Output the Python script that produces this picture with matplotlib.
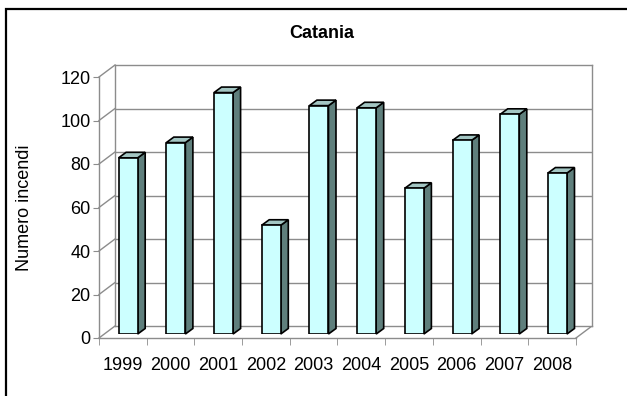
import numpy as np
import matplotlib.pyplot as plt
from matplotlib.patches import Polygon, Rectangle
from matplotlib.lines import Line2D
from matplotlib.transforms import IdentityTransform

plt.rcParams['font.family'] = ['Liberation Sans', 'DejaVu Sans']

# Dati
anni = ['1999', '2000', '2001', '2002', '2003', '2004', '2005', '2006', '2007', '2008']
incendi = [81, 88, 111, 50, 105, 104, 67, 89, 101, 74]
y_ticks = [0, 20, 40, 60, 80, 100, 120]

W, H = 627, 396
fig = plt.figure(figsize=(W / 100, H / 100), dpi=100)

# piano delle barre (pixel)
L, R, B, T = 104.3, 581.3, 62, 323
front = (-5.3, -4.0)   # spostamento piano frontale
back = (10.7, 8.0)     # spostamento parete di fondo
depth = (7.5, 5.5)     # profondita' barre
gray = '#8c8c8c'

def pos(dx, dy):
    return [(L + dx) / W, (B + dy) / H, (R - L) / W, (T - B) / H]

x = np.arange(len(anni))
xlim = (-0.5, len(anni) - 0.5)
ylim = (0, 120)

# parete di fondo
ax_back = fig.add_axes(pos(*back))
ax_back.set_xlim(xlim)
ax_back.set_ylim(ylim)
ax_back.set_xticks([])
ax_back.set_yticks(y_ticks[1:-1])
ax_back.tick_params(length=0, labelleft=False)
ax_back.grid(axis='y', color=gray, linewidth=1.0)
for s in ax_back.spines.values():
    s.set_color(gray)
    s.set_linewidth(1.0)

# assi frontali
ax_front = fig.add_axes(pos(*front))
ax_front.set_xlim(xlim)
ax_front.set_ylim(ylim)
ax_front.patch.set_alpha(0)
ax_front.set_yticks(y_ticks)
ax_front.set_xticks(x)
ax_front.set_xticklabels(anni)
ax_front.set_xticks(np.arange(len(anni) + 1) - 0.5, minor=True)
ax_front.tick_params(axis='x', which='major', length=0, labelsize=13, pad=14, colors='black')
ax_front.tick_params(axis='x', which='minor', length=5, color=gray)
ax_front.tick_params(axis='y', length=4, color=gray, labelsize=13, pad=2)
for s in ['top', 'right']:
    ax_front.spines[s].set_visible(False)
for s in ['left', 'bottom']:
    ax_front.spines[s].set_color(gray)
    ax_front.spines[s].set_linewidth(1.0)
ax_front.set_ylabel('Numero incendi', fontsize=13, labelpad=20)

# barre
ax = fig.add_axes(pos(0, 0))
ax.set_xlim(xlim)
ax.set_ylim(ylim)
ax.patch.set_alpha(0)
ax.axis('off')
w = 0.4
ax.bar(x, incendi, width=w, color='#ccffff', edgecolor='black', linewidth=1.2, zorder=3)

fig.canvas.draw()
td = ax.transData
dx, dy = depth
for xi, v in zip(x, incendi):
    p0 = td.transform((xi + w / 2, 0))
    p1 = td.transform((xi + w / 2, v))
    p2 = td.transform((xi - w / 2, v))
    side = [p0, p1, p1 + [dx, dy], p0 + [dx, dy]]
    top = [p2, p1, p1 + [dx, dy], p2 + [dx, dy]]
    ax.add_patch(Polygon(side, closed=True, transform=IdentityTransform(),
                         facecolor='#5f7f7c', edgecolor='black', linewidth=1.2, zorder=2, clip_on=False))
    ax.add_patch(Polygon(top, closed=True, transform=IdentityTransform(),
                         facecolor='#a3c6c3', edgecolor='black', linewidth=1.2, zorder=2, clip_on=False))

# parete sinistra e pavimento
tf = ax_front.transData
tb = ax_back.transData
for yv in y_ticks:
    a = tf.transform((xlim[0], yv))
    b = tb.transform((xlim[0], yv))
    fig.add_artist(Line2D([a[0], b[0]], [a[1], b[1]], color=gray, linewidth=1.0,
                          transform=IdentityTransform(), zorder=-1))
a = tf.transform((xlim[1], 0))
b = tb.transform((xlim[1], 0))
fig.add_artist(Line2D([a[0], b[0]], [a[1], b[1]], color=gray, linewidth=1.0,
                      transform=IdentityTransform(), zorder=-1))

fig.text(322 / W, 1 - 33 / H, 'Catania', ha='center', va='center', fontsize=13, fontweight='bold')

# cornice
fig.add_artist(Rectangle((6 / W, -0.1), 1.2, 1 - 9 / H + 0.1, transform=fig.transFigure,
                         fill=False, edgecolor='black', linewidth=1.6))

fig.savefig('out.png', dpi=100)
